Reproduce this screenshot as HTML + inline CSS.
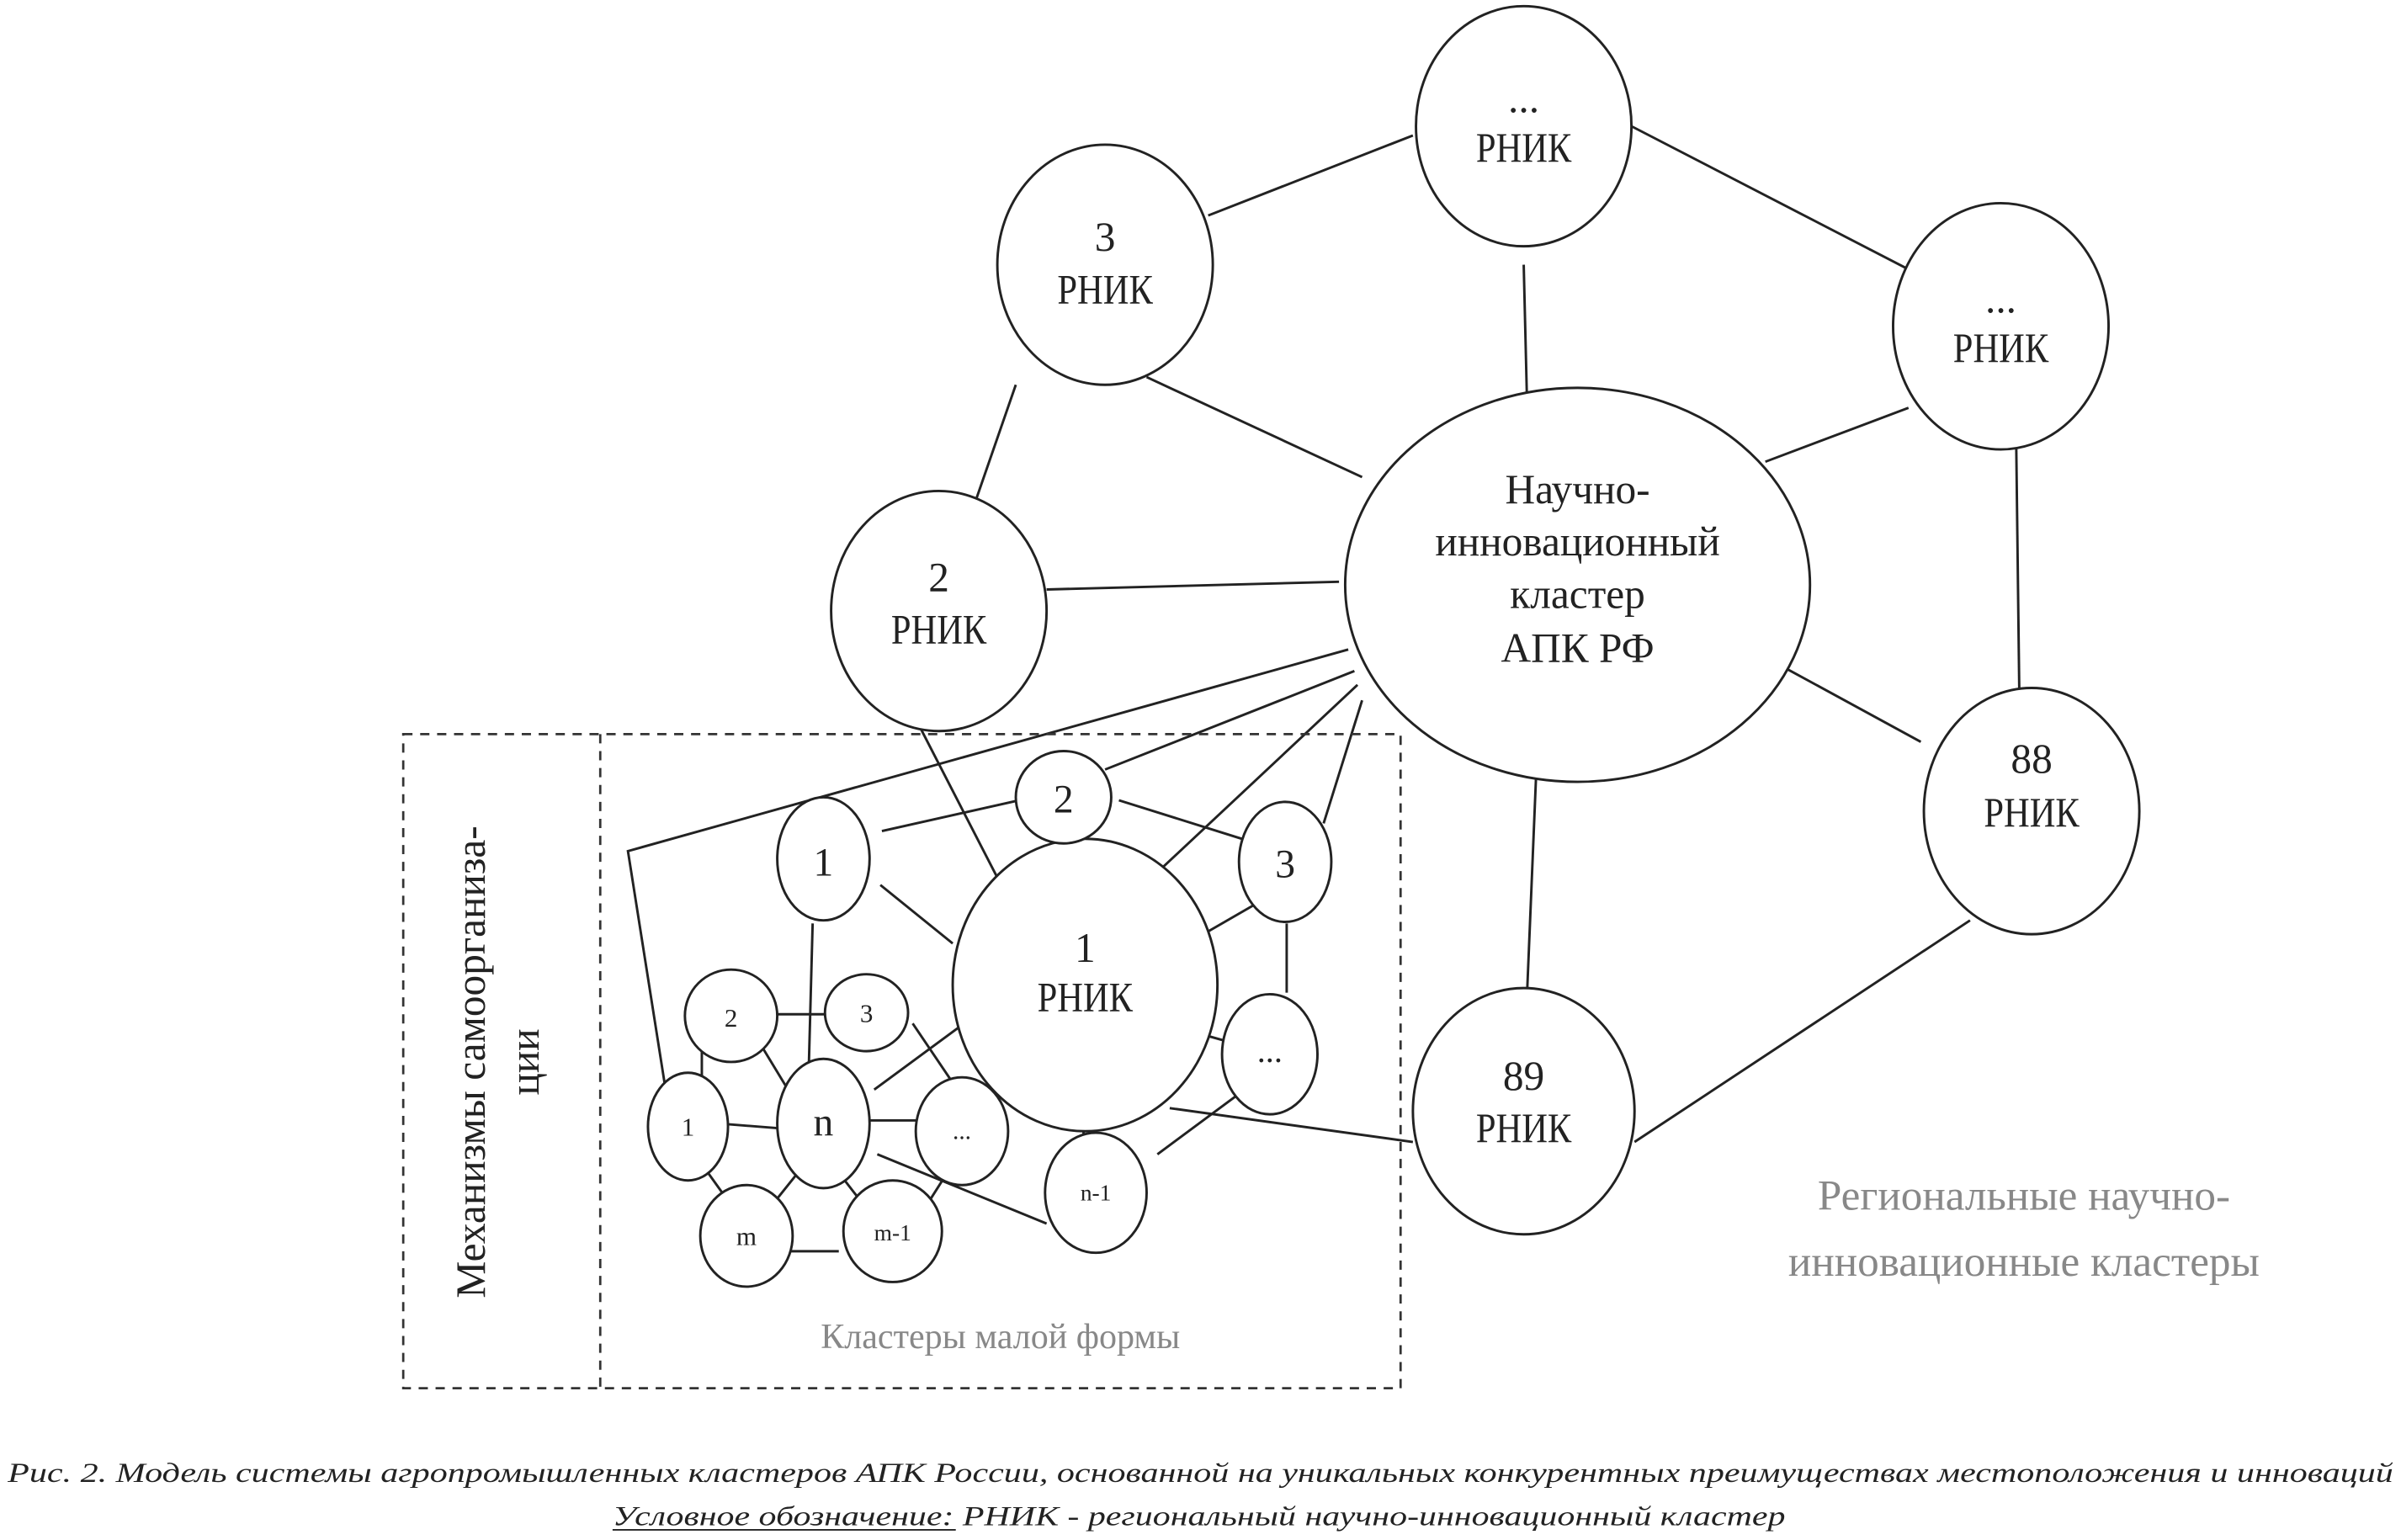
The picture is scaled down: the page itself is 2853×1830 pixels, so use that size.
<!DOCTYPE html>
<html><head><meta charset="utf-8"><style>
html,body{margin:0;padding:0;background:#fff;}
svg{display:block;}
</style></head><body>
<svg width="2853" height="1830" viewBox="0 0 1560 1000.6" xmlns="http://www.w3.org/2000/svg" font-family="'Liberation Serif', serif">
<g stroke="#222" stroke-width="1.6" fill="none">
<line x1="918" y1="88" x2="785" y2="140"/>
<line x1="1060" y1="82" x2="1240" y2="175"/>
<line x1="990" y1="172" x2="992" y2="255"/>
<line x1="745" y1="245" x2="885" y2="310"/>
<line x1="660" y1="250" x2="633" y2="328"/>
<line x1="1240" y1="265" x2="1147" y2="300"/>
<line x1="1310" y1="288" x2="1312" y2="450"/>
<line x1="680" y1="383" x2="870" y2="378"/>
<line x1="1158" y1="433" x2="1248" y2="482"/>
<line x1="998" y1="505" x2="992" y2="650"/>
<line x1="1280" y1="598" x2="1062" y2="742"/>
<line x1="760" y1="720" x2="918" y2="742"/>
<polyline points="876,422 408,553 432,705"/>
<line x1="880" y1="436" x2="718" y2="500"/>
<line x1="882" y1="445" x2="740" y2="578"/>
<line x1="885" y1="455" x2="860" y2="535"/>
<line x1="598" y1="473" x2="652" y2="578"/>
<line x1="573" y1="540" x2="662" y2="520"/>
<line x1="727" y1="520" x2="810" y2="546"/>
<line x1="692" y1="550" x2="690" y2="570"/>
<line x1="572" y1="575" x2="619" y2="613"/>
<line x1="820" y1="585" x2="768" y2="615"/>
<line x1="836" y1="600" x2="836" y2="645"/>
<line x1="795" y1="676" x2="763" y2="667"/>
<line x1="810" y1="707" x2="752" y2="750"/>
<line x1="703" y1="717" x2="705" y2="755"/>
<line x1="625" y1="666" x2="568" y2="708"/>
<line x1="528" y1="600" x2="525" y2="712"/>
<line x1="500" y1="659" x2="536" y2="659"/>
<line x1="495" y1="680" x2="512" y2="708"/>
<line x1="456" y1="680" x2="456" y2="700"/>
<line x1="467" y1="730" x2="505" y2="733"/>
<line x1="565" y1="728" x2="595" y2="728"/>
<line x1="570" y1="750" x2="680" y2="795"/>
<line x1="593" y1="665" x2="618" y2="702"/>
<line x1="618" y1="758" x2="604" y2="780"/>
<line x1="460" y1="762" x2="475" y2="783"/>
<line x1="520" y1="760" x2="500" y2="785"/>
<line x1="545" y1="762" x2="562" y2="784"/>
<line x1="513" y1="813" x2="545" y2="813"/>
</g>
<g stroke="#333" stroke-width="1.5" fill="none" stroke-dasharray="6,5">
<rect x="262" y="477" width="648" height="425"/>
<line x1="390" y1="477" x2="390" y2="902"/>
</g>
<g stroke="#222" stroke-width="1.6" fill="#fff">
<ellipse cx="990" cy="82" rx="70" ry="78"/>
<ellipse cx="718" cy="172" rx="70" ry="78"/>
<ellipse cx="1300" cy="212" rx="70" ry="80"/>
<ellipse cx="610" cy="397" rx="70" ry="78"/>
<ellipse cx="1025" cy="380" rx="151" ry="128"/>
<ellipse cx="1320" cy="527" rx="70" ry="80"/>
<ellipse cx="990" cy="722" rx="72" ry="80"/>
<ellipse cx="705" cy="640" rx="86" ry="95"/>
<ellipse cx="691" cy="518" rx="31" ry="30"/>
<ellipse cx="535" cy="558" rx="30" ry="40"/>
<ellipse cx="835" cy="560" rx="30" ry="39"/>
<ellipse cx="825" cy="685" rx="31" ry="39"/>
<ellipse cx="712" cy="775" rx="33" ry="39"/>
<ellipse cx="535" cy="730" rx="30" ry="42"/>
<ellipse cx="475" cy="660" rx="30" ry="30"/>
<ellipse cx="563" cy="658" rx="27" ry="25"/>
<ellipse cx="447" cy="732" rx="26" ry="35"/>
<ellipse cx="625" cy="735" rx="30" ry="35"/>
<ellipse cx="485" cy="803" rx="30" ry="33"/>
<ellipse cx="580" cy="800" rx="32" ry="33"/>
</g>
<g fill="#222" text-anchor="middle" font-size="27">
<text x="990" y="73">...</text><text x="990" y="105" textLength="62" lengthAdjust="spacingAndGlyphs">РНИК</text>
<text x="718" y="163">3</text><text x="718" y="197" textLength="62" lengthAdjust="spacingAndGlyphs">РНИК</text>
<text x="1300" y="203">...</text><text x="1300" y="235" textLength="62" lengthAdjust="spacingAndGlyphs">РНИК</text>
<text x="610" y="384">2</text><text x="610" y="418" textLength="62" lengthAdjust="spacingAndGlyphs">РНИК</text>
<text x="1320" y="502">88</text><text x="1320" y="537" textLength="62" lengthAdjust="spacingAndGlyphs">РНИК</text>
<text x="990" y="708">89</text><text x="990" y="742" textLength="62" lengthAdjust="spacingAndGlyphs">РНИК</text>
<text x="705" y="625">1</text><text x="705" y="657" textLength="62" lengthAdjust="spacingAndGlyphs">РНИК</text>
<text x="1025" y="327">Научно-</text>
<text x="1025" y="361">инновационный</text>
<text x="1025" y="395">кластер</text>
<text x="1025" y="430">АПК РФ</text>
<text x="691" y="528" font-size="26">2</text>
<text x="535" y="569" font-size="26">1</text>
<text x="835" y="570" font-size="26">3</text>
<text x="825" y="690" font-size="22">...</text>
<text x="535" y="738" font-size="26">n</text>
<text x="475" y="667" font-size="17">2</text>
<text x="563" y="664" font-size="17">3</text>
<text x="447" y="738" font-size="17">1</text>
<text x="625" y="740" font-size="16">...</text>
<text x="485" y="809" font-size="17">m</text>
<text x="580" y="806" font-size="15">m-1</text>
<text x="712" y="780" font-size="15">n-1</text>
</g>
<g fill="#888" text-anchor="middle">
<text x="650" y="876" font-size="23">Кластеры малой формы</text>
<text x="1315" y="786" font-size="28">Региональные научно-</text>
<text x="1315" y="829" font-size="28">инновационные кластеры</text>
</g>
<g fill="#222" text-anchor="middle" font-size="27">
<text transform="translate(315,690) rotate(-90)">Механизмы самоорганиза-</text>
<text transform="translate(350,690) rotate(-90)">ции</text>
</g>
<g fill="#222" font-style="italic" font-size="18">
<text x="5" y="963" textLength="1550" lengthAdjust="spacingAndGlyphs">Рис. 2. Модель системы агропромышленных кластеров АПК России, основанной на уникальных конкурентных преимуществах местоположения и инноваций</text>
<text x="398" y="991" textLength="762" lengthAdjust="spacingAndGlyphs">Условное обозначение: РНИК - региональный научно-инновационный кластер</text>
</g>
<line x1="398" y1="994" x2="621" y2="994" stroke="#222" stroke-width="1"/>
</svg>
</body></html>
